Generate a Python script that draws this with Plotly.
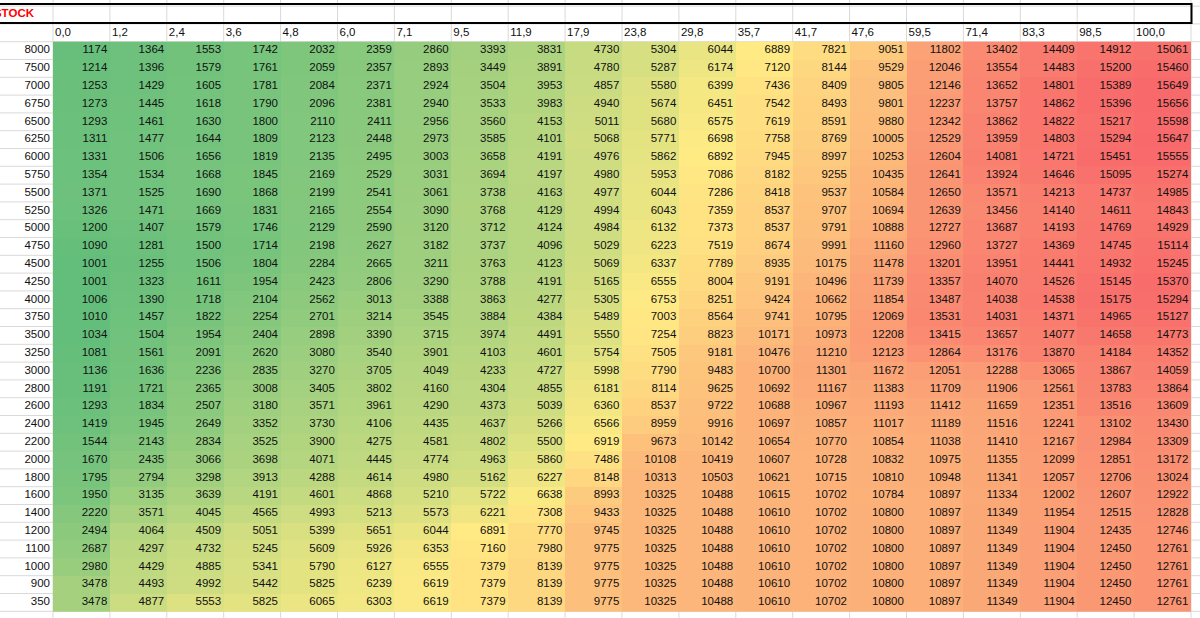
import numpy as np
import plotly.graph_objects as go

title_text = "STOCK"
col_labels = ["0,0", "1,2", "2,4", "3,6", "4,8", "6,0", "7,1", "9,5", "11,9", "17,9",
              "23,8", "29,8", "35,7", "41,7", "47,6", "59,5", "71,4", "83,3", "98,5", "100,0"]
row_labels = ["8000", "7500", "7000", "6750", "6500", "6250", "6000", "5750", "5500", "5250",
              "5000", "4750", "4500", "4250", "4000", "3750", "3500", "3250", "3000", "2800",
              "2600", "2400", "2200", "2000", "1800", "1600", "1400", "1200", "1100", "1000",
              "900", "350"]
values = [
    [1174, 1364, 1553, 1742, 2032, 2359, 2860, 3393, 3831, 4730, 5304, 6044, 6889, 7821, 9051, 11802, 13402, 14409, 14912, 15061],
    [1214, 1396, 1579, 1761, 2059, 2357, 2893, 3449, 3891, 4780, 5287, 6174, 7120, 8144, 9529, 12046, 13554, 14483, 15200, 15460],
    [1253, 1429, 1605, 1781, 2084, 2371, 2924, 3504, 3953, 4857, 5580, 6399, 7436, 8409, 9805, 12146, 13652, 14801, 15389, 15649],
    [1273, 1445, 1618, 1790, 2096, 2381, 2940, 3533, 3983, 4940, 5674, 6451, 7542, 8493, 9801, 12237, 13757, 14862, 15396, 15656],
    [1293, 1461, 1630, 1800, 2110, 2411, 2956, 3560, 4153, 5011, 5680, 6575, 7619, 8591, 9880, 12342, 13862, 14822, 15217, 15598],
    [1311, 1477, 1644, 1809, 2123, 2448, 2973, 3585, 4101, 5068, 5771, 6698, 7758, 8769, 10005, 12529, 13959, 14803, 15294, 15647],
    [1331, 1506, 1656, 1819, 2135, 2495, 3003, 3658, 4191, 4976, 5862, 6892, 7945, 8997, 10253, 12604, 14081, 14721, 15451, 15555],
    [1354, 1534, 1668, 1845, 2169, 2529, 3031, 3694, 4197, 4980, 5953, 7086, 8182, 9255, 10435, 12641, 13924, 14646, 15095, 15274],
    [1371, 1525, 1690, 1868, 2199, 2541, 3061, 3738, 4163, 4977, 6044, 7286, 8418, 9537, 10584, 12650, 13571, 14213, 14737, 14985],
    [1326, 1471, 1669, 1831, 2165, 2554, 3090, 3768, 4129, 4994, 6043, 7359, 8537, 9707, 10694, 12639, 13456, 14140, 14611, 14843],
    [1200, 1407, 1579, 1746, 2129, 2590, 3120, 3712, 4124, 4984, 6132, 7373, 8537, 9791, 10888, 12727, 13687, 14193, 14769, 14929],
    [1090, 1281, 1500, 1714, 2198, 2627, 3182, 3737, 4096, 5029, 6223, 7519, 8674, 9991, 11160, 12960, 13727, 14369, 14745, 15114],
    [1001, 1255, 1506, 1804, 2284, 2665, 3211, 3763, 4123, 5069, 6337, 7789, 8935, 10175, 11478, 13201, 13951, 14441, 14932, 15245],
    [1001, 1323, 1611, 1954, 2423, 2806, 3290, 3788, 4191, 5165, 6555, 8004, 9191, 10496, 11739, 13357, 14070, 14526, 15145, 15370],
    [1006, 1390, 1718, 2104, 2562, 3013, 3388, 3863, 4277, 5305, 6753, 8251, 9424, 10662, 11854, 13487, 14038, 14538, 15175, 15294],
    [1010, 1457, 1822, 2254, 2701, 3214, 3545, 3884, 4384, 5489, 7003, 8564, 9741, 10795, 12069, 13531, 14031, 14371, 14965, 15127],
    [1034, 1504, 1954, 2404, 2898, 3390, 3715, 3974, 4491, 5550, 7254, 8823, 10171, 10973, 12208, 13415, 13657, 14077, 14658, 14773],
    [1081, 1561, 2091, 2620, 3080, 3540, 3901, 4103, 4601, 5754, 7505, 9181, 10476, 11210, 12123, 12864, 13176, 13870, 14184, 14352],
    [1136, 1636, 2236, 2835, 3270, 3705, 4049, 4233, 4727, 5998, 7790, 9483, 10700, 11301, 11672, 12051, 12288, 13065, 13867, 14059],
    [1191, 1721, 2365, 3008, 3405, 3802, 4160, 4304, 4855, 6181, 8114, 9625, 10692, 11167, 11383, 11709, 11906, 12561, 13783, 13864],
    [1293, 1834, 2507, 3180, 3571, 3961, 4290, 4373, 5039, 6360, 8537, 9722, 10688, 10967, 11193, 11412, 11659, 12351, 13516, 13609],
    [1419, 1945, 2649, 3352, 3730, 4106, 4435, 4637, 5266, 6566, 8959, 9916, 10697, 10857, 11017, 11189, 11516, 12241, 13102, 13430],
    [1544, 2143, 2834, 3525, 3900, 4275, 4581, 4802, 5500, 6919, 9673, 10142, 10654, 10770, 10854, 11038, 11410, 12167, 12984, 13309],
    [1670, 2435, 3066, 3698, 4071, 4445, 4774, 4963, 5860, 7486, 10108, 10419, 10607, 10728, 10832, 10975, 11355, 12099, 12851, 13172],
    [1795, 2794, 3298, 3913, 4288, 4614, 4980, 5162, 6227, 8148, 10313, 10503, 10621, 10715, 10810, 10948, 11341, 12057, 12706, 13024],
    [1950, 3135, 3639, 4191, 4601, 4868, 5210, 5722, 6638, 8993, 10325, 10488, 10615, 10702, 10784, 10897, 11334, 12002, 12607, 12922],
    [2220, 3571, 4045, 4565, 4993, 5213, 5573, 6221, 7308, 9433, 10325, 10488, 10610, 10702, 10800, 10897, 11349, 11954, 12515, 12828],
    [2494, 4064, 4509, 5051, 5399, 5651, 6044, 6891, 7770, 9745, 10325, 10488, 10610, 10702, 10800, 10897, 11349, 11904, 12435, 12746],
    [2687, 4297, 4732, 5245, 5609, 5926, 6353, 7160, 7980, 9775, 10325, 10488, 10610, 10702, 10800, 10897, 11349, 11904, 12450, 12761],
    [2980, 4429, 4885, 5341, 5790, 6127, 6555, 7379, 8139, 9775, 10325, 10488, 10610, 10702, 10800, 10897, 11349, 11904, 12450, 12761],
    [3478, 4493, 4992, 5442, 5825, 6239, 6619, 7379, 8139, 9775, 10325, 10488, 10610, 10702, 10800, 10897, 11349, 11904, 12450, 12761],
    [3478, 4877, 5553, 5825, 6065, 6303, 6619, 7379, 8139, 9775, 10325, 10488, 10610, 10702, 10800, 10897, 11349, 11904, 12450, 12761],
]

# ---- geometry (pixels) of the spreadsheet ----
W, H = 1200, 618
COL_W = 56.9
ROW_H = 17.8
X0 = 53.0     # left edge of first data column
Y0 = 41.7     # top edge of first data row

def px_to_x(px):
    return -0.5 + (px - X0) / COL_W

def py_to_y(py):
    return -0.5 + (py - Y0) / ROW_H

z = np.array(values, dtype=float)
nr, nc = z.shape
zmin, zmax = z.min(), z.max()
zmid = np.percentile(z, 50)
mid = (zmid - zmin) / (zmax - zmin)
colorscale = [[0.0, "#63BE7B"], [mid, "#FFEB84"], [1.0, "#F8696B"]]

font_family = "Liberation Sans, Arial, sans-serif"
fs = 11.5

fig = go.Figure()
fig.add_trace(go.Heatmap(
    z=z, x=list(range(nc)), y=list(range(nr)),
    colorscale=colorscale, zmin=zmin, zmax=zmax,
    showscale=False, hoverinfo="skip",
))

# cell values (right aligned)
pad_r = 2.6 / COL_W
tx, ty, tt = [], [], []
for r in range(nr):
    for c in range(nc):
        tx.append(c + 0.5 - pad_r)
        ty.append(r)
        tt.append(str(values[r][c]))
fig.add_trace(go.Scatter(x=tx, y=ty, text=tt, mode="text", textposition="middle left",
                         textfont=dict(family=font_family, size=fs, color="#111111"),
                         hoverinfo="skip", showlegend=False))

# row labels
fig.add_trace(go.Scatter(x=[-0.5 - 3 / COL_W] * nr, y=list(range(nr)), text=row_labels,
                         mode="text", textposition="middle left",
                         textfont=dict(family=font_family, size=fs, color="#111111"),
                         hoverinfo="skip", showlegend=False))

# column header labels (left aligned)
fig.add_trace(go.Scatter(x=[c - 0.5 + 2 / COL_W for c in range(nc)], y=[-1] * nc, text=col_labels,
                         mode="text", textposition="middle right",
                         textfont=dict(family=font_family, size=fs, color="#111111"),
                         hoverinfo="skip", showlegend=False))

# title
fig.add_trace(go.Scatter(x=[px_to_x(34)], y=[py_to_y(14.5)], text=["<b>" + title_text + "</b>"],
                         mode="text", textposition="middle left",
                         textfont=dict(family=font_family, size=fs, color="#FF0000"),
                         hoverinfo="skip", showlegend=False))

shapes = []
grid_col = "#D9D9D9"
xl, xr = px_to_x(-5), px_to_x(W + 5)
yt, yb = py_to_y(-5), py_to_y(H + 5)
for c in range(nc + 2):
    xv = c - 0.5
    shapes.append(dict(type="line", x0=xv, x1=xv, y0=yt, y1=yb, layer="below",
                       line=dict(color=grid_col, width=1)))
for r in range(-2, nr + 2):
    yv = r - 0.5
    shapes.append(dict(type="line", x0=xl, x1=xr, y0=yv, y1=yv, layer="below",
                       line=dict(color=grid_col, width=1)))
# thick box around title row
shapes.append(dict(type="rect", x0=px_to_x(-10), x1=px_to_x(1191.5), y0=py_to_y(4), y1=py_to_y(23),
                   line=dict(color="#000000", width=2), layer="above"))

fig.update_layout(
    width=W, height=H, margin=dict(l=0, r=0, t=0, b=0),
    paper_bgcolor="white", plot_bgcolor="white",
    xaxis=dict(range=[px_to_x(0), px_to_x(W)], visible=False, fixedrange=True),
    yaxis=dict(range=[py_to_y(H), py_to_y(0)], visible=False, fixedrange=True),
    shapes=shapes, showlegend=False,
)

fig.write_html("out.html", config={"displayModeBar": False},
               post_script="document.body.style.margin='0';")
